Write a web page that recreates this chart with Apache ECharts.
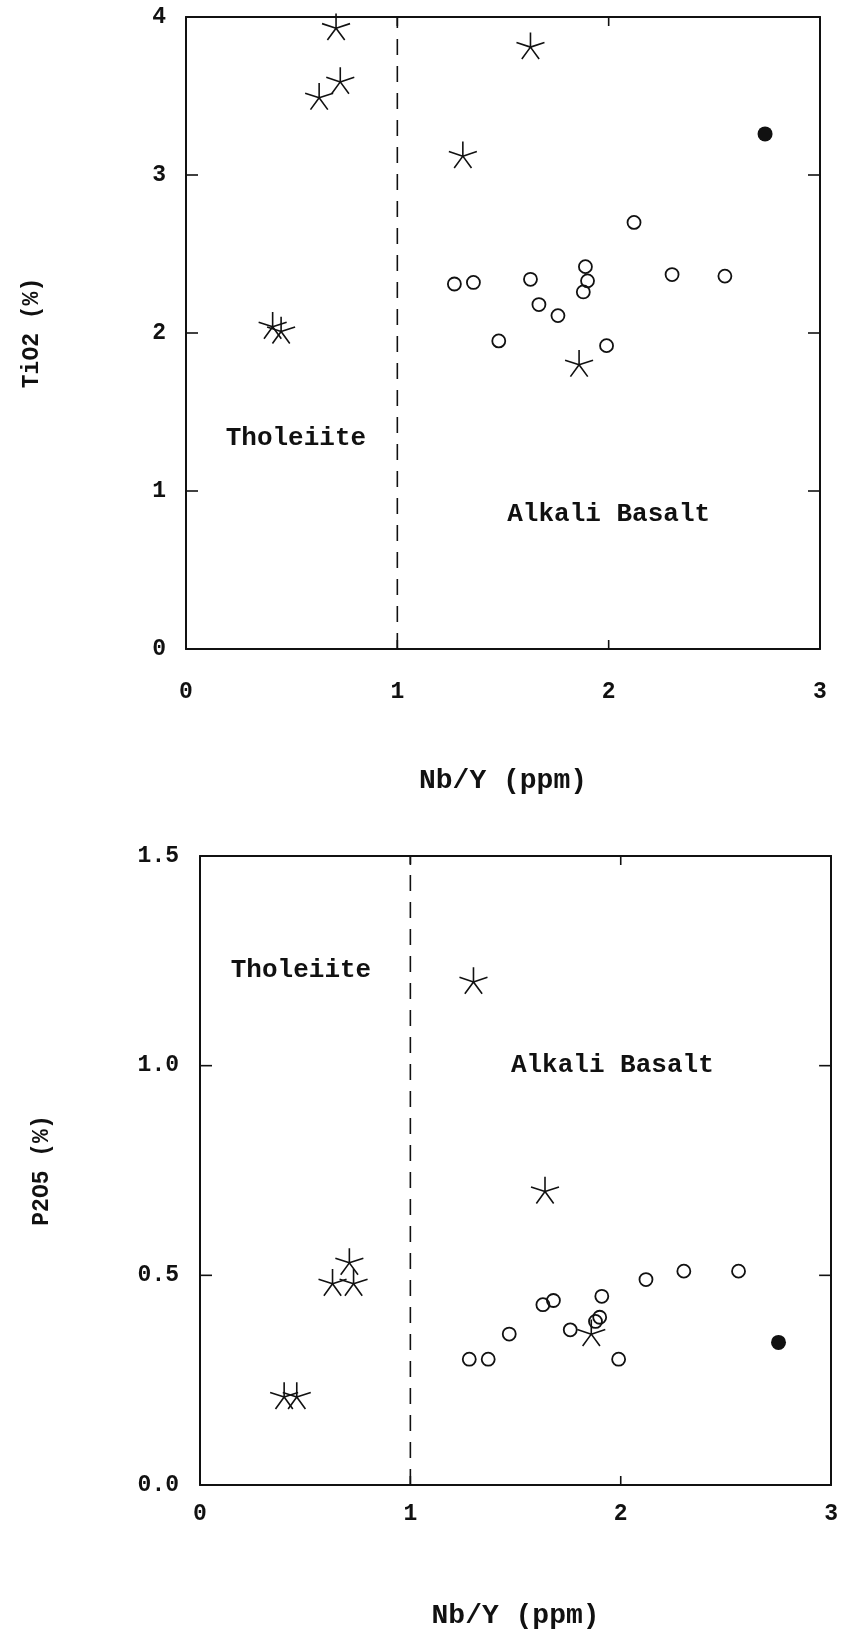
<!DOCTYPE html>
<html>
<head>
<meta charset="utf-8">
<script src="https://cdn.jsdelivr.net/npm/echarts@6/dist/echarts.min.js"></script>
<style>
  html, body { margin: 0; padding: 0; background: #ffffff; }
  #chart { width: 841px; height: 1648px; }
</style>
</head>
<body>
<div id="chart"></div>
<script>
// ---------- data ----------
const xTicks = [0, 1, 2, 3];
const topYTicks = [0, 1, 2, 3, 4];
const botYTicks = [0.0, 0.5, 1.0, 1.5];

// Top panel: TiO2 (%) vs Nb/Y
const topStarX   = [0.71, 0.73, 0.63, 1.63, 1.31, 0.41, 0.45, 1.86];
const topStarY   = [3.93, 3.59, 3.49, 3.81, 3.12, 2.04, 2.01, 1.80];
const topCircleX = [1.27, 1.36, 1.63, 1.67, 1.76, 1.48, 1.89, 1.90, 1.88, 2.12, 2.30, 2.55, 1.99];
const topCircleY = [2.31, 2.32, 2.34, 2.18, 2.11, 1.95, 2.42, 2.33, 2.26, 2.70, 2.37, 2.36, 1.92];
const topFilledX = [2.74];
const topFilledY = [3.26];

// Bottom panel: P2O5 (%) vs Nb/Y
const botStarX   = [1.30, 0.71, 0.63, 0.73, 0.40, 0.46, 1.64, 1.86];
const botStarY   = [1.20, 0.53, 0.48, 0.48, 0.21, 0.21, 0.70, 0.36];
const botCircleX = [1.28, 1.37, 1.47, 1.63, 1.68, 1.76, 1.88, 1.90, 1.91, 1.99, 2.12, 2.30, 2.56];
const botCircleY = [0.30, 0.30, 0.36, 0.43, 0.44, 0.37, 0.39, 0.40, 0.45, 0.30, 0.49, 0.51, 0.51];
const botFilledX = [2.75];
const botFilledY = [0.34];

// Boundary between fields
const boundaryX = 1;

// Field annotations
const noteNames = ['Tholeiite', 'Alkali Basalt'];
const topNoteX = [0.52, 2.00];
const topNoteY = [1.33, 0.85];
const botNoteX = [0.48, 1.96];
const botNoteY = [1.226, 1.00];

// Axis titles
const xTitle = 'Nb/Y (ppm)';
const topYTitle = 'TiO2 (%)';
const botYTitle = 'P2O5 (%)';

// ---------- helpers ----------
const INK = '#111111';
const FONT = "'Liberation Mono', 'Courier New', monospace";
const zip = (xs, ys) => xs.map((x, i) => [x, ys[i]]);
const inner = (arr) => arr.slice(1, -1);

const STAR = 'path://M0,0L0,-10M0,0L9.51,-3.09M0,0L5.88,8.09M0,0L-5.88,8.09M0,0L-9.51,-3.09';

const frameLine = { show: true, onZero: false, lineStyle: { color: INK, width: 2 } };

function xAxisPair(gridIndex, labelMargin, nameGap) {
  return [
    {
      type: 'value', gridIndex, position: 'bottom',
      min: xTicks[0], max: xTicks[xTicks.length - 1], interval: 1,
      axisLine: frameLine,
      axisTick: { show: false },
      axisLabel: { show: true, margin: labelMargin, color: INK, fontFamily: FONT, fontSize: 23, fontWeight: 'bold' },
      splitLine: { show: false },
      name: xTitle, nameLocation: 'middle', nameGap: nameGap,
      nameTextStyle: { color: INK, fontFamily: FONT, fontSize: 28, fontWeight: 'bold' }
    },
    {
      type: 'value', gridIndex, position: 'top',
      min: xTicks[0], max: xTicks[xTicks.length - 1], interval: 1,
      axisLine: frameLine,
      axisTick: { show: false },
      axisLabel: { show: false },
      splitLine: { show: false }
    }
  ];
}

function yAxisPair(gridIndex, ticks, interval, fmt, title, nameGap, labelMargin) {
  return [
    {
      type: 'value', gridIndex, position: 'left',
      min: ticks[0], max: ticks[ticks.length - 1], interval: interval,
      axisLine: frameLine,
      axisTick: { show: false },
      axisLabel: { show: true, margin: labelMargin, color: INK, fontFamily: FONT, fontSize: 23, fontWeight: 'bold', formatter: fmt },
      splitLine: { show: false },
      name: title, nameLocation: 'middle', nameGap: nameGap, nameRotate: 90,
      nameTextStyle: { color: INK, fontFamily: FONT, fontSize: 23, fontWeight: 'bold' }
    },
    {
      type: 'value', gridIndex, position: 'right',
      min: ticks[0], max: ticks[ticks.length - 1], interval: interval,
      axisLine: frameLine,
      axisTick: { show: false },
      axisLabel: { show: false },
      splitLine: { show: false }
    }
  ];
}

// Inward-pointing tick marks drawn at the axis tick values
function tickSeries(xi, yi, yTicks) {
  const xMin = xTicks[0], xMax = xTicks[xTicks.length - 1];
  const yMin = yTicks[0], yMax = yTicks[yTicks.length - 1];
  const base = { type: 'scatter', xAxisIndex: xi, yAxisIndex: yi, silent: true, symbol: 'rect', clip: false,
                 itemStyle: { color: INK, opacity: 1 }, z: 4 };
  return [
    Object.assign({}, base, { data: inner(yTicks).map(t => [xMin, t]), symbolSize: [12, 1.6], symbolOffset: [6, 0] }),
    Object.assign({}, base, { data: inner(yTicks).map(t => [xMax, t]), symbolSize: [12, 1.6], symbolOffset: [-6, 0] }),
    Object.assign({}, base, { data: inner(xTicks).map(t => [t, yMin]), symbolSize: [1.6, 9], symbolOffset: [0, -4.5] }),
    Object.assign({}, base, { data: inner(xTicks).map(t => [t, yMax]), symbolSize: [1.6, 9], symbolOffset: [0, 4.5] })
  ];
}

function panelSeries(xi, yi, yTicks, starX, starY, circX, circY, fillX, fillY, noteX, noteY) {
  const yMax = yTicks[yTicks.length - 1];
  return [
    {
      type: 'line', xAxisIndex: xi, yAxisIndex: yi,
      data: [[boundaryX, 0], [boundaryX, yMax]],
      symbol: 'none', silent: true,
      lineStyle: { color: INK, width: 1.6, type: [16, 11] },
      z: 1
    },
    ...tickSeries(xi, yi, yTicks),
    {
      type: 'scatter', xAxisIndex: xi, yAxisIndex: yi,
      data: zip(starX, starY),
      symbol: STAR, symbolSize: 28, symbolKeepAspect: true, symbolOffset: [0, -1.3],
      itemStyle: { color: 'rgba(0,0,0,0)', borderColor: INK, borderWidth: 1.6, opacity: 1 },
      z: 3
    },
    {
      type: 'scatter', xAxisIndex: xi, yAxisIndex: yi,
      data: zip(circX, circY),
      symbol: 'circle', symbolSize: 13,
      itemStyle: { color: 'rgba(0,0,0,0)', borderColor: INK, borderWidth: 1.8, opacity: 1 },
      z: 3
    },
    {
      type: 'scatter', xAxisIndex: xi, yAxisIndex: yi,
      data: zip(fillX, fillY),
      symbol: 'circle', symbolSize: 15,
      itemStyle: { color: INK, opacity: 1 },
      z: 3
    },
    {
      type: 'scatter', xAxisIndex: xi, yAxisIndex: yi,
      data: noteNames.map((n, i) => ({ name: n, value: [noteX[i], noteY[i]] })),
      symbolSize: 0, silent: true,
      itemStyle: { opacity: 1 },
      label: {
        show: true, position: 'inside', formatter: '{b}',
        color: INK, fontFamily: FONT, fontSize: 26, fontWeight: 'bold'
      },
      z: 2
    }
  ];
}

const chart = echarts.init(document.getElementById('chart'), null, { renderer: 'canvas' });

const option = {
  backgroundColor: '#ffffff',
  animation: false,
  grid: [
    { left: 186, top: 17, width: 634, height: 632 },
    { left: 200, top: 856, width: 632, height: 629 }
  ],
  xAxis: [
    ...xAxisPair(0, 32, 118),
    ...xAxisPair(1, 18, 117)
  ],
  yAxis: [
    ...yAxisPair(0, topYTicks, 1, v => String(v), topYTitle, 142, 20),
    ...yAxisPair(1, botYTicks, 0.5, v => v.toFixed(1), botYTitle, 146, 21)
  ],
  series: [
    ...panelSeries(0, 0, topYTicks, topStarX, topStarY, topCircleX, topCircleY, topFilledX, topFilledY,
                   topNoteX, topNoteY),
    ...panelSeries(2, 2, botYTicks, botStarX, botStarY, botCircleX, botCircleY, botFilledX, botFilledY,
                   botNoteX, botNoteY)
  ]
};

chart.setOption(option);
</script>
</body>
</html>
